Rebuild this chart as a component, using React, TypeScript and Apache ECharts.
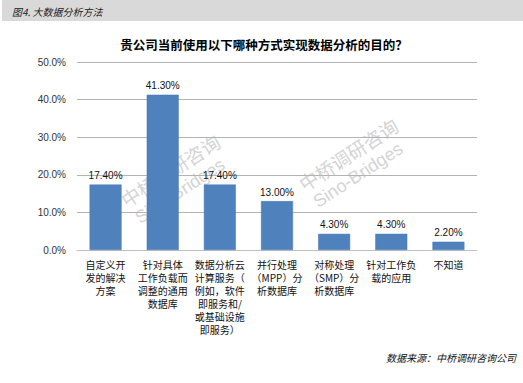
import React, { useEffect, useRef } from "react";
import * as echarts from "echarts";

const categories = [
  "自定义开\n发的解决\n方案",
  "针对具体\n工作负载而\n调整的通用\n数据库",
  "数据分析云\n计算服务（\n例如，软件\n即服务和/\n或基础设施\n即服务）",
  "并行处理\n（MPP）分\n析数据库",
  "对称处理\n（SMP）分\n析数据库",
  "针对工作负\n载的应用",
  "不知道",
];
const values = [17.4, 41.3, 17.4, 13.0, 4.3, 4.3, 2.2];
const yTicks = [0, 10, 20, 30, 40, 50];

const headerText = "图4. 大数据分析方法";
const titleText = "贵公司当前使用以下哪种方式实现数据分析的目的？";
const sourceText = "数据来源：中桥调研咨询公司";
const wmCn = "中桥调研咨询";
const wmEn = "Sino-Bridges";

const CJK = "'Noto Sans CJK SC', 'Liberation Sans', sans-serif";
const NUM = "'Liberation Sans', 'Noto Sans CJK SC', sans-serif";

export default function App() {
  const ref = useRef<HTMLDivElement>(null);
  useEffect(() => {
    if (!ref.current) return;
    const chart = echarts.init(ref.current, undefined, { renderer: "svg" });
    const rot = 0.58;
    const wm = (cx: number, cy: number) => [
      {
        type: "text",
        x: cx,
        y: cy,
        rotation: rot,
        z: -10,
        style: {
          text: wmCn,
          fontSize: 19,
          fontFamily: CJK,
          fill: "#d4d4d4",
          align: "center",
          verticalAlign: "middle",
        },
      },
      {
        type: "text",
        x: cx + 10,
        y: cy + 21,
        rotation: rot,
        z: -10,
        style: {
          text: wmEn,
          fontSize: 18,
          fontFamily: NUM,
          fill: "#d4d4d4",
          align: "center",
          verticalAlign: "middle",
        },
      },
    ];
    chart.setOption({
      animation: false,
      backgroundColor: "#ffffff",
      title: {
        text: titleText,
        left: 259,
        top: 33,
        textAlign: "center",
        textStyle: { fontSize: 12.5, fontWeight: "bold", fontFamily: CJK, color: "#000" },
      },
      graphic: [
        {
          type: "rect",
          shape: { x: 2, y: 0, width: 521, height: 21 },
          style: { fill: "#d9d9d9" },
          z: -20,
        },
        {
          type: "text",
          x: 12,
          y: 11,
          style: {
            text: headerText,
            fontSize: 10,
            fontStyle: "italic",
            fontFamily: CJK,
            fill: "#222",
            verticalAlign: "middle",
          },
        },
        {
          type: "text",
          x: 516,
          y: 357,
          style: {
            text: sourceText,
            fontSize: 10,
            fontStyle: "italic",
            fontFamily: CJK,
            fill: "#111",
            align: "right",
            verticalAlign: "middle",
          },
        },
        ...wm(170, 170),
        ...wm(348, 154),
      ],
      grid: { left: 77, right: 46, top: 62, bottom: 133 },
      xAxis: {
        type: "category",
        data: categories,
        axisLine: { lineStyle: { color: "#bfbfbf", width: 1 } },
        axisTick: { show: false },
        axisLabel: {
          interval: 0,
          fontSize: 10,
          lineHeight: 13,
          fontFamily: CJK,
          color: "#111",
          margin: 8,
        },
      },
      yAxis: {
        type: "value",
        min: 0,
        max: 50,
        interval: 10,
        axisLine: { show: false },
        axisTick: { show: false },
        splitLine: { lineStyle: { color: "#b3b3b3", width: 1 } },
        axisLabel: {
          formatter: (v: number) => (yTicks.includes(v) ? v.toFixed(1) + "%" : ""),
          fontSize: 10,
          fontFamily: NUM,
          color: "#333",
          margin: 11,
        },
      },
      series: [
        {
          type: "bar",
          data: values,
          barWidth: 32,
          itemStyle: { color: "#4f81bd", borderColor: "#4a7ab5", borderWidth: 0.5 },
          label: {
            show: true,
            position: "top",
            distance: 4,
            formatter: (p: any) => p.value.toFixed(2) + "%",
            fontSize: 10,
            fontFamily: NUM,
            color: "#111",
          },
        },
      ],
    });
    return () => chart.dispose();
  }, []);
  return (
    <div
      ref={ref}
      style={{ position: "fixed", left: 0, top: 0, width: 523, height: 383 }}
    />
  );
}
